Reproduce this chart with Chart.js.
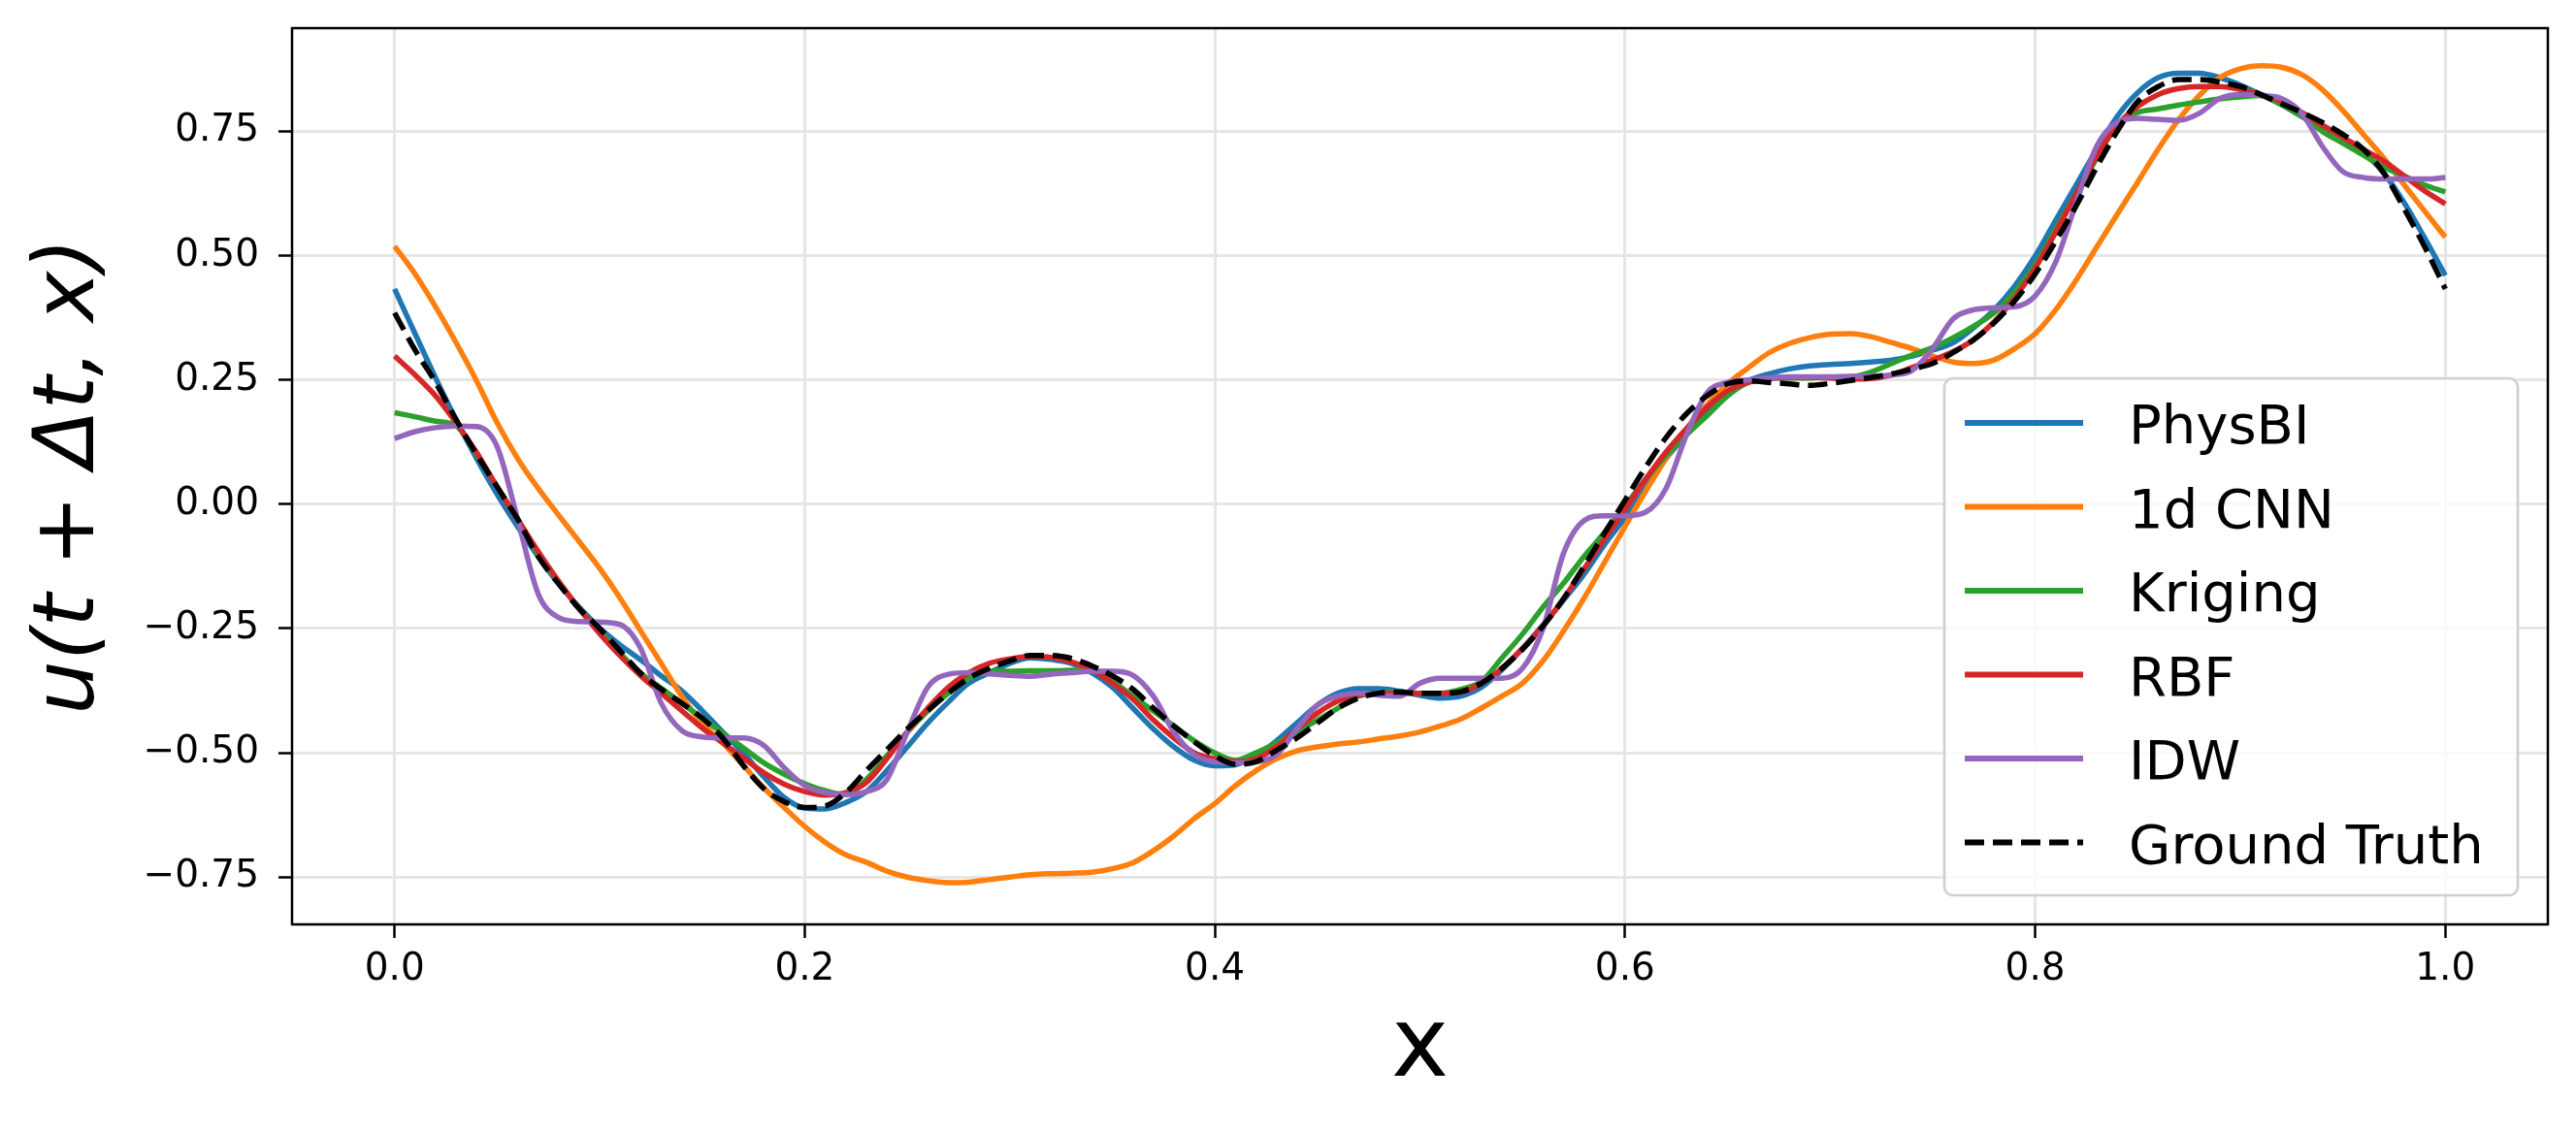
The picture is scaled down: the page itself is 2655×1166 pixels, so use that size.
<!DOCTYPE html>
<html>
<head>
<meta charset="utf-8">
<script src="https://cdn.jsdelivr.net/npm/chart.js@4.4.1/dist/chart.umd.min.js"></script>
<style>
  html, body { margin: 0; padding: 0; background: #fff; }
  canvas { display: block; }
</style>
</head>
<body>
<canvas id="lineChart" width="2655" height="1166"></canvas>
<script>
// x positions along the domain
const xs = [
  0.00, 0.01, 0.02, 0.03, 0.04, 0.05, 0.06, 0.07, 0.08, 0.09,
  0.10, 0.11, 0.12, 0.13, 0.14, 0.15, 0.16, 0.17, 0.18, 0.19,
  0.20, 0.21, 0.22, 0.23, 0.24, 0.25, 0.26, 0.27, 0.28, 0.29,
  0.30, 0.31, 0.32, 0.33, 0.34, 0.35, 0.36, 0.37, 0.38, 0.39,
  0.40, 0.41, 0.42, 0.43, 0.44, 0.45, 0.46, 0.47, 0.48, 0.49,
  0.50, 0.51, 0.52, 0.53, 0.54, 0.55, 0.56, 0.57, 0.58, 0.59,
  0.60, 0.61, 0.62, 0.63, 0.64, 0.65, 0.66, 0.67, 0.68, 0.69,
  0.70, 0.71, 0.72, 0.73, 0.74, 0.75, 0.76, 0.77, 0.78, 0.79,
  0.80, 0.81, 0.82, 0.83, 0.84, 0.85, 0.86, 0.87, 0.88, 0.89,
  0.90, 0.91, 0.92, 0.93, 0.94, 0.95, 0.96, 0.97, 0.98, 0.99,
  1.00
];

const physBI = [
  0.433, 0.343, 0.254, 0.170, 0.092, 0.020, -0.045, -0.105, -0.160, -0.207,
  -0.249, -0.283, -0.313, -0.345, -0.375, -0.415, -0.458, -0.500, -0.548, -0.590,
  -0.611, -0.613, -0.600, -0.578, -0.536, -0.488, -0.440, -0.398, -0.360, -0.339,
  -0.320, -0.309, -0.312, -0.320, -0.339, -0.368, -0.410, -0.452, -0.488, -0.515,
  -0.526, -0.524, -0.506, -0.476, -0.440, -0.404, -0.380, -0.371, -0.371, -0.376,
  -0.384, -0.390, -0.386, -0.368, -0.333, -0.290, -0.243, -0.193, -0.141, -0.081,
  -0.027, 0.032, 0.092, 0.140, 0.182, 0.224, 0.248, 0.262, 0.272, 0.278,
  0.281, 0.283, 0.286, 0.290, 0.298, 0.310, 0.325, 0.355, 0.391, 0.439,
  0.499, 0.571, 0.642, 0.714, 0.780, 0.828, 0.858, 0.867, 0.867, 0.858,
  0.843, 0.824, 0.804, 0.780, 0.762, 0.738, 0.708, 0.666, 0.606, 0.535,
  0.460
];

const cnn1d = [
  0.519, 0.463, 0.397, 0.325, 0.248, 0.164, 0.092, 0.032, -0.022, -0.075,
  -0.129, -0.189, -0.255, -0.320, -0.386, -0.440, -0.480, -0.525, -0.570, -0.610,
  -0.648, -0.680, -0.705, -0.720, -0.738, -0.750, -0.757, -0.761, -0.760, -0.755,
  -0.750, -0.745, -0.743, -0.742, -0.740, -0.733, -0.721, -0.697, -0.667, -0.632,
  -0.602, -0.566, -0.536, -0.512, -0.496, -0.488, -0.482, -0.478, -0.472, -0.466,
  -0.458, -0.446, -0.432, -0.410, -0.386, -0.360, -0.315, -0.255, -0.189, -0.117,
  -0.045, 0.026, 0.092, 0.152, 0.200, 0.242, 0.274, 0.304, 0.323, 0.335,
  0.342, 0.343, 0.337, 0.325, 0.313, 0.298, 0.286, 0.283, 0.290, 0.313,
  0.343, 0.391, 0.451, 0.517, 0.583, 0.648, 0.714, 0.774, 0.822, 0.858,
  0.876, 0.882, 0.879, 0.864, 0.834, 0.792, 0.744, 0.696, 0.642, 0.589,
  0.537
];

const kriging = [
  0.184, 0.176, 0.167, 0.158, 0.100, 0.035, -0.030, -0.100, -0.155, -0.210,
  -0.255, -0.300, -0.340, -0.370, -0.400, -0.430, -0.460, -0.490, -0.520, -0.543,
  -0.562, -0.576, -0.584, -0.554, -0.506, -0.458, -0.416, -0.380, -0.350, -0.336,
  -0.336, -0.335, -0.335, -0.334, -0.333, -0.356, -0.386, -0.416, -0.446, -0.476,
  -0.500, -0.515, -0.500, -0.480, -0.458, -0.434, -0.410, -0.386, -0.380, -0.378,
  -0.380, -0.380, -0.372, -0.356, -0.309, -0.261, -0.207, -0.159, -0.105, -0.057,
  -0.004, 0.050, 0.098, 0.140, 0.178, 0.218, 0.245, 0.254, 0.254, 0.254,
  0.255, 0.256, 0.266, 0.283, 0.300, 0.315, 0.335, 0.358, 0.385, 0.427,
  0.481, 0.553, 0.624, 0.696, 0.762, 0.788, 0.795, 0.803, 0.809, 0.815,
  0.819, 0.822, 0.804, 0.780, 0.750, 0.726, 0.702, 0.678, 0.660, 0.642,
  0.628
];

const rbf = [
  0.298, 0.260, 0.218, 0.164, 0.104, 0.035, -0.030, -0.095, -0.155, -0.210,
  -0.260, -0.305, -0.345, -0.380, -0.415, -0.450, -0.480, -0.510, -0.540, -0.563,
  -0.578, -0.585, -0.580, -0.560, -0.512, -0.458, -0.410, -0.368, -0.339, -0.320,
  -0.311, -0.306, -0.308, -0.317, -0.333, -0.360, -0.392, -0.434, -0.470, -0.500,
  -0.512, -0.518, -0.512, -0.488, -0.452, -0.420, -0.396, -0.384, -0.380, -0.380,
  -0.380, -0.380, -0.378, -0.360, -0.330, -0.290, -0.245, -0.190, -0.130, -0.070,
  -0.010, 0.050, 0.105, 0.152, 0.195, 0.228, 0.245, 0.252, 0.255, 0.255,
  0.254, 0.252, 0.253, 0.260, 0.275, 0.290, 0.307, 0.331, 0.367, 0.415,
  0.475, 0.547, 0.624, 0.700, 0.762, 0.800, 0.824, 0.836, 0.840, 0.840,
  0.834, 0.824, 0.810, 0.788, 0.762, 0.738, 0.714, 0.690, 0.660, 0.630,
  0.604
];

const idw = [
  0.132, 0.146, 0.154, 0.157, 0.156, 0.116, -0.030, -0.180, -0.228, -0.236,
  -0.237, -0.242, -0.290, -0.400, -0.455, -0.468, -0.470, -0.470, -0.485, -0.530,
  -0.566, -0.580, -0.584, -0.578, -0.554, -0.458, -0.368, -0.342, -0.339, -0.341,
  -0.344, -0.346, -0.342, -0.339, -0.336, -0.336, -0.344, -0.386, -0.458, -0.504,
  -0.518, -0.520, -0.518, -0.504, -0.452, -0.404, -0.386, -0.380, -0.384, -0.386,
  -0.360, -0.350, -0.350, -0.350, -0.350, -0.330, -0.250, -0.099, -0.033, -0.023,
  -0.023, -0.016, 0.032, 0.140, 0.224, 0.245, 0.250, 0.254, 0.256, 0.256,
  0.256, 0.257, 0.257, 0.260, 0.269, 0.313, 0.373, 0.391, 0.395, 0.397,
  0.419, 0.487, 0.606, 0.720, 0.768, 0.776, 0.774, 0.772, 0.786, 0.816,
  0.824, 0.822, 0.816, 0.786, 0.720, 0.669, 0.657, 0.654, 0.654, 0.654,
  0.657
];

const groundTruth = [
  0.385, 0.310, 0.245, 0.170, 0.100, 0.035, -0.030, -0.105, -0.160, -0.210,
  -0.250, -0.295, -0.340, -0.372, -0.400, -0.430, -0.470, -0.525, -0.572, -0.598,
  -0.610, -0.607, -0.580, -0.536, -0.494, -0.452, -0.415, -0.380, -0.350, -0.330,
  -0.315, -0.304, -0.304, -0.310, -0.325, -0.345, -0.372, -0.410, -0.446, -0.478,
  -0.506, -0.523, -0.518, -0.495, -0.470, -0.440, -0.410, -0.390, -0.380, -0.378,
  -0.380, -0.380, -0.377, -0.360, -0.330, -0.292, -0.245, -0.190, -0.125, -0.058,
  0.008, 0.074, 0.134, 0.182, 0.218, 0.242, 0.248, 0.245, 0.242, 0.239,
  0.243, 0.249, 0.255, 0.262, 0.272, 0.283, 0.305, 0.331, 0.365, 0.409,
  0.463, 0.529, 0.600, 0.678, 0.750, 0.810, 0.840, 0.854, 0.854, 0.849,
  0.840, 0.824, 0.806, 0.788, 0.768, 0.744, 0.714, 0.666, 0.594, 0.517,
  0.433
];

const seriesNames = ['PhysBI', '1d CNN', 'Kriging', 'RBF', 'IDW', 'Ground Truth'];
const seriesValues = [physBI, cnn1d, kriging, rbf, idw, groundTruth];
const seriesColors = ['#1f77b4', '#ff7f0e', '#2ca02c', '#d62728', '#9467bd', '#000000'];

const xTicks = [0.0, 0.2, 0.4, 0.6, 0.8, 1.0];
const yTicks = [-0.75, -0.5, -0.25, 0.0, 0.25, 0.5, 0.75];

const FONT = 'DejaVu Sans';
const LINE_W = 5.5;

const datasets = seriesNames.map((name, i) => ({
    label: name,
    data: xs.map((x, j) => ({ x: x, y: seriesValues[i][j] })),
    borderColor: seriesColors[i],
    borderWidth: LINE_W,
    borderDash: name === 'Ground Truth' ? [20, 9] : [],
    pointRadius: 0,
    fill: false,
    cubicInterpolationMode: 'monotone',
    order: seriesNames.length - i   // later series on top, like matplotlib
}));

// frame around the axes and a matplotlib-style legend box
const frameAndLegend = {
    id: 'frameAndLegend',
    afterDatasetsDraw(chart) {
        const ctx = chart.ctx;
        const a = chart.chartArea;
        ctx.save();

        // legend
        const boxW = 591, boxH = 533;
        const bx = a.right - 31 - boxW;
        const by = a.bottom - 30 - boxH;
        ctx.beginPath();
        ctx.roundRect(bx, by, boxW, boxH, 9);
        ctx.fillStyle = 'rgba(255,255,255,0.8)';
        ctx.fill();
        ctx.lineWidth = 2.7;
        ctx.strokeStyle = '#d0d0d0';
        ctx.stroke();

        ctx.font = '56px "' + FONT + '"';
        ctx.textAlign = 'left';
        ctx.textBaseline = 'alphabetic';
        chart.data.datasets.forEach((ds, i) => {
            const rowY = by + 46 + i * 86.5;
            ctx.beginPath();
            ctx.setLineDash(ds.borderDash || []);
            ctx.lineWidth = LINE_W + 0.5;
            ctx.strokeStyle = ds.borderColor;
            ctx.moveTo(bx + 21, rowY);
            ctx.lineTo(bx + 143, rowY);
            ctx.stroke();
            ctx.setLineDash([]);
            ctx.fillStyle = '#000';
            ctx.fillText(ds.label, bx + 190, rowY + 21);
        });

        // axes frame
        ctx.lineWidth = 2.5;
        ctx.strokeStyle = '#000';
        ctx.strokeRect(a.left, a.top, a.right - a.left, a.bottom - a.top);
        ctx.restore();
    }
};

function noScalePadding(s) {
    s.paddingTop = 0;
    s.paddingBottom = 0;
    s.paddingLeft = 0;
    s.paddingRight = 0;
}

const canvas = document.getElementById('lineChart');
new Chart(canvas, {
    type: 'line',
    data: { datasets: datasets },
    options: {
        responsive: false,
        devicePixelRatio: 1,
        animation: false,
        events: [],
        layout: { padding: { top: 29, right: 29, left: 0, bottom: 0 } },
        plugins: {
            legend: { display: false },
            tooltip: { enabled: false }
        },
        scales: {
            x: {
                type: 'linear',
                min: -0.05,
                max: 1.05,
                afterBuildTicks: s => { s.ticks = xTicks.map(v => ({ value: v })); },
                afterFit: s => { s.height = 213; noScalePadding(s); },
                border: { display: false },
                grid: {
                    color: '#e6e6e6',
                    lineWidth: 3,
                    tickColor: '#000',
                    tickWidth: 2.5,
                    tickLength: 14
                },
                ticks: {
                    color: '#000',
                    font: { family: FONT, size: 39 },
                    padding: 9,
                    maxRotation: 0,
                    callback: v => v.toFixed(1)
                },
                title: {
                    display: true,
                    text: 'x',
                    color: '#000',
                    font: { family: FONT, size: 100 },
                    padding: { top: 0, bottom: 23 }
                }
            },
            y: {
                type: 'linear',
                min: -0.845,
                max: 0.9575,
                afterBuildTicks: s => { s.ticks = yTicks.map(v => ({ value: v })); },
                afterFit: s => { s.width = 301; noScalePadding(s); },
                border: { display: false },
                grid: {
                    color: '#e6e6e6',
                    lineWidth: 3,
                    tickColor: '#000',
                    tickWidth: 2.5,
                    tickLength: 14
                },
                ticks: {
                    color: '#000',
                    font: { family: FONT, size: 39 },
                    padding: 20,
                    callback: v => v.toFixed(2).replace('-', '\u2212')
                },
                title: {
                    display: true,
                    text: 'u(t + \u0394t, x)',
                    color: '#000',
                    font: { family: FONT, size: 88, style: 'italic' },
                    padding: { top: 20, bottom: 0 }
                }
            }
        }
    },
    plugins: [frameAndLegend]
});
</script>
</body>
</html>
